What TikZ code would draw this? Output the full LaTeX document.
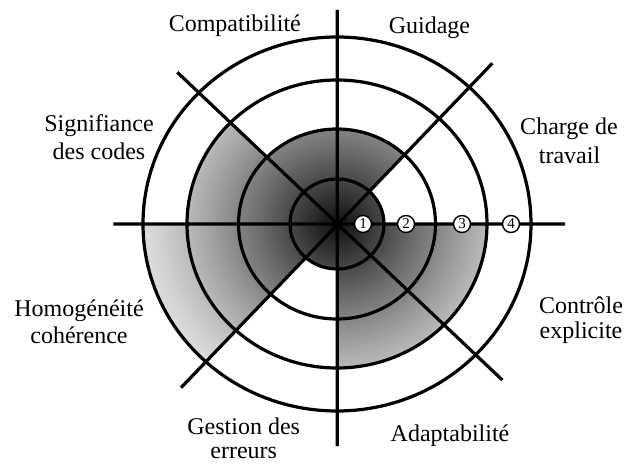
\documentclass[tikz,border=0pt]{standalone}
\usepackage{fontspec}
\setmainfont{Liberation Serif}
\usepackage{tikz}
\usetikzlibrary{calc}

\begin{document}
\begin{tikzpicture}[x=1pt, y=1pt,
    ring/.style={draw, line width=3.2pt},
    axis/.style={line width=3.2pt},
    num/.style={circle, fill=white, draw, line width=1.4pt, inner sep=0pt, minimum size=17pt, font=\fontsize{15}{16}\selectfont},
    lab/.style={anchor=base, inner sep=0pt, font=\fontsize{24}{28}\selectfont}]
            \useasboundingbox (0,0) rectangle (634,463);
            \coordinate (C) at (337,239);
            \coordinate (top) at (337.3,453);   \coordinate (bot) at (337.3,17);
            \coordinate (left) at (113.3,239);  \coordinate (right) at (565,239);
            \coordinate (ne) at (492.3,399.7);  \coordinate (sw) at (181,75.3);
            \coordinate (nw) at (177.3,390.7);  \coordinate (se) at (502.3,83);
            % shaded sectors, dark at the centre
            \foreach \a/\b/\rx/\ry in {top/ne/98.5/95, ne/right/47/45, right/se/150/144, se/bot/150/144,
                                       bot/sw/47/45, sw/left/194/187, left/nw/150/144, nw/top/98.5/95} {
              \begin{scope}
                \clip (C) -- ($(C)!1.5!(\a)$) -- ($(C)!1.5!(\b)$) -- cycle;
                \clip (C) ellipse [x radius=\rx, y radius=\ry];
                \foreach \k in {72,71,...,1} {
                  \pgfmathsetmacro\p{14+81*(1.001-\k/72)^1.2}
                  \pgfmathsetmacro\rk{194*\k/72}
                  \pgfmathsetmacro\sk{187*\k/72}
                  \fill[black!\p] (C) ellipse [x radius=\rk, y radius=\sk];
                }
              \end{scope}
            }
            \foreach \rx/\ry in {47/45, 98.5/95, 150/144, 194/187} \draw[ring] (C) ellipse [x radius=\rx, y radius=\ry];
            \draw[axis] (top)--(bot) (left)--(right) (nw)--(se) (ne)--(sw);
            \foreach \x/\i in {363/1, 406/2, 462/3, 511/4} \node[num] (n\i) at (\x,239) {\i};
            % criteria
            \foreach \x/\y/\t/\n in {234.8/431.3/Compatibilité/comp, 429.4/429.7/Guidage/guid,
                                     99/331.3/Signifiance/sig, 99/303/des codes/sigb,
                                     569/328/Charge de/cha, 569.5/299.7/travail/chab,
                                     79/146.3/Homogénéité/hom, 79/119.7/cohérence/homb,
                                     581/149.7/Contrôle/ctl, 581/124.7/explicite/ctlb,
                                     243.7/28.5/Gestion des/ges, 243.7/4.5/erreurs/gesb,
                                     450/21.3/Adaptabilité/ada}
              \node[lab] (\n) at (\x,\y) {\t};
        \end{tikzpicture}
\end{document}
